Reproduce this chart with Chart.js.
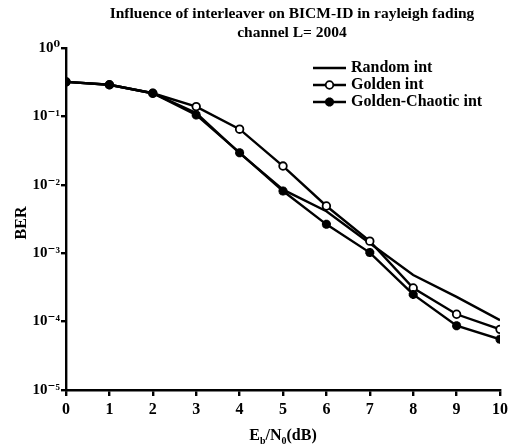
<!DOCTYPE html>
<html>
<head>
<meta charset="utf-8">
<script src="https://cdn.jsdelivr.net/npm/chart.js@4.4.1/dist/chart.umd.min.js"></script>
<style>
  body { margin: 0; background: #fff; }
  canvas { display: block; }
</style>
</head>
<body>
<canvas id="berChart" width="520" height="448"></canvas>
<script>
// Data
const ebn0 = [0, 1, 2, 3, 4, 5, 6, 7, 8, 9, 10];
const randomBer  = [0.32, 0.29, 0.218, 0.112, 0.029, 0.0085, 0.0041, 0.0014, 0.00048, 0.00023, 0.000105];
const goldenBer  = [0.32, 0.29, 0.218, 0.139, 0.065, 0.0188, 0.0049, 0.0015, 0.00031, 0.000128, 0.000077];
const chaoticBer = [0.32, 0.29, 0.218, 0.105, 0.0295, 0.0081, 0.00264, 0.00102, 0.00025, 0.000087, 0.000055];

const yTickValues = [1, 1e-1, 1e-2, 1e-3, 1e-4, 1e-5];
const yTickLabels = ['10⁰', '10⁻¹', '10⁻²', '10⁻³', '10⁻⁴', '10⁻⁵'];

const titleLines = ['Influence of interleaver on BICM-ID in rayleigh fading', 'channel L= 2004'];

const SERIF = "'Liberation Serif', 'DejaVu Serif', serif";
const tickFont = { family: SERIF, size: 16, weight: 'bold' };

function toPoints(values) {
    return ebn0.map((x, i) => ({ x: x, y: values[i] }));
}

// Title, legend and axis titles drawn on the canvas
const textPlugin = {
    id: 'textPlugin',
    afterDraw(chart) {
        const ctx = chart.ctx;
        const area = chart.chartArea;
        ctx.save();
        ctx.fillStyle = '#000';
        ctx.font = 'bold 15.5px ' + SERIF;
        ctx.textAlign = 'center';
        ctx.textBaseline = 'middle';
        ctx.fillText(titleLines[0], 292, 14);
        ctx.fillText(titleLines[1], 292, 33);

        // legend
        ctx.font = 'bold 16px ' + SERIF;
        chart.data.datasets.forEach((ds, i) => {
            const y = 68 + i * 17;
            ctx.strokeStyle = '#000';
            ctx.lineWidth = 2.4;
            ctx.beginPath();
            ctx.moveTo(313, y);
            ctx.lineTo(346, y);
            ctx.stroke();
            if (ds.pointRadius > 0) {
                ctx.fillStyle = ds.pointBackgroundColor;
                ctx.strokeStyle = ds.pointBorderColor;
                ctx.lineWidth = ds.pointBorderWidth;
                Chart.helpers.drawPoint(ctx, {
                    pointStyle: ds.pointStyle,
                    radius: ds.pointRadius,
                    borderWidth: ds.pointBorderWidth
                }, 329.5, y);
            }
            ctx.fillStyle = '#000';
            ctx.textAlign = 'left';
            ctx.fillText(ds.label, 351, y);
        });

        // y title
        ctx.save();
        ctx.font = 'bold 16px ' + SERIF;
        ctx.translate(22, (area.top + area.bottom) / 2 + 4);
        ctx.rotate(-Math.PI / 2);
        ctx.textAlign = 'center';
        ctx.fillText('BER', 0, 0);
        ctx.restore();

        // x title: E_b/N_0(dB)
        const parts = [
            { t: 'E', sub: false }, { t: 'b', sub: true },
            { t: '/N', sub: false }, { t: '0', sub: true },
            { t: '(dB)', sub: false }
        ];
        const big = 'bold 16px ' + SERIF;
        const small = 'bold 10px ' + SERIF;
        let total = 0;
        parts.forEach(p => { ctx.font = p.sub ? small : big; total += ctx.measureText(p.t).width; });
        let x = (area.left + area.right) / 2 - total / 2;
        ctx.textAlign = 'left';
        parts.forEach(p => {
            ctx.font = p.sub ? small : big;
            ctx.fillText(p.t, x, p.sub ? 441 : 436);
            x += ctx.measureText(p.t).width;
        });
        ctx.restore();
    }
};

const ctx = document.getElementById('berChart').getContext('2d');
new Chart(ctx, {
    type: 'line',
    data: {
        datasets: [
            {
                label: 'Random int',
                data: toPoints(randomBer),
                borderColor: '#000',
                borderWidth: 2.4,
                pointRadius: 0,
                order: 2
            },
            {
                label: 'Golden int',
                data: toPoints(goldenBer),
                borderColor: '#000',
                backgroundColor: '#fff',
                borderWidth: 2.4,
                pointStyle: 'circle',
                pointRadius: 3.8,
                pointBorderWidth: 1.8,
                pointBackgroundColor: '#fff',
                pointBorderColor: '#000',
                order: 1
            },
            {
                label: 'Golden-Chaotic int',
                data: toPoints(chaoticBer),
                borderColor: '#000',
                backgroundColor: '#000',
                borderWidth: 2.4,
                pointStyle: 'star',
                pointRadius: 4.5,
                pointBorderWidth: 3,
                pointBackgroundColor: '#000',
                pointBorderColor: '#000',
                order: 0
            }
        ]
    },
    options: {
        responsive: false,
        animation: false,
        layout: { padding: { top: 48, right: 20, left: 0, bottom: 0 } },
        plugins: {
            legend: { display: false },
            title: { display: false },
            tooltip: { enabled: false }
        },
        scales: {
            x: {
                type: 'linear',
                min: 0,
                max: 10,
                ticks: { stepSize: 1, color: '#000', font: tickFont, padding: 4 },
                grid: { drawOnChartArea: false, tickLength: 6, color: '#000', lineWidth: 2.4 },
                border: { color: '#000', width: 2.4 },
                afterFit: (scale) => { scale.height = 58; }
            },
            y: {
                type: 'logarithmic',
                min: 1e-5,
                max: 1,
                afterBuildTicks: (scale) => {
                    scale.ticks = yTickValues.map(v => ({ value: v }));
                },
                ticks: {
                    color: '#000',
                    font: { family: SERIF, size: 15, weight: 'bold' },
                    padding: 1,
                    callback: (value) => {
                        const idx = yTickValues.findIndex(v => Math.abs(Math.log10(v) - Math.log10(value)) < 1e-6);
                        return idx >= 0 ? yTickLabels[idx] : '';
                    }
                },
                grid: { drawOnChartArea: false, tickLength: 5, color: '#000', lineWidth: 2.4 },
                border: { color: '#000', width: 2.4 },
                afterFit: (scale) => { scale.width = 66; }
            }
        }
    },
    plugins: [textPlugin]
});
</script>
</body>
</html>
